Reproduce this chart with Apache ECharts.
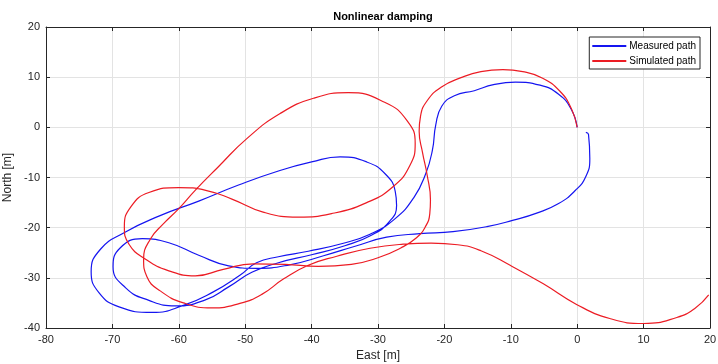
<!DOCTYPE html>
<html>
<head>
<meta charset="utf-8">
<script src="https://cdn.jsdelivr.net/npm/echarts@6/dist/echarts.min.js"></script>
<style>html,body{margin:0;padding:0;background:#fff;}#c{width:718px;height:364px;}</style>
</head>
<body>
<div id="c"></div>
<script>
var xTicks = [-80, -70, -60, -50, -40, -30, -20, -10, 0, 10, 20];
var yTicks = [-40, -30, -20, -10, 0, 10, 20];

var measuredEast = [0, -0.9, -2.8, -5.6, -9.3, -12.6, -15.5, -18.5, -20.4, -21.3, -21.8, -22.8, -24.6, -27.5, -31.2, -35.5, -40.5, -45, -48.3, -50.8, -54.8, -59.3, -64, -69, -72, -73.2, -71.8, -68.1, -63, -57, -51, -45, -40, -35.7, -31.7, -28.9, -27.4, -27.2, -28.3, -31, -35, -40, -45, -49, -52.5, -56, -60.5, -64.5, -68, -69.9, -68.8, -65.5, -61.5, -57, -52.5, -48.3, -43.3, -38.2, -33.2, -28.7, -23.7, -18.7, -13.6, -9.6, -6.1, -2.8, -0.3, 1.3, 1.9, 1.7, 1.3];
var measuredNorth = [0, 3.6, 6.6, 8.4, 9.0, 8.5, 7.3, 6.3, 4.2, 0.5, -4.5, -9.2, -14, -18.3, -21.3, -23.2, -24.7, -25.8, -27, -29.5, -32.8, -35.5, -36.9, -35.8, -33, -28.8, -24.3, -20.9, -17.7, -14.7, -11.5, -8.7, -6.9, -5.9, -6.9, -9.3, -12.8, -15.6, -18.8, -21.5, -23.6, -25.4, -27, -28.9, -31.8, -34.4, -35.6, -34.5, -32, -27.8, -24, -22.2, -23, -25.5, -27.6, -28.1, -27.4, -25.6, -23.6, -21.9, -21.2, -20.8, -19.8, -18.5, -17.1, -15.2, -12.6, -9.8, -6.2, -1.4, -1];

var simulatedEast = [0, -0.9, -2.6, -5.2, -8.2, -11.2, -14.5, -17.5, -20.5, -22.6, -23.6, -23.8, -23.3, -22.6, -22.1, -22.2, -22.9, -24.2, -26.5, -30, -34, -39, -44, -48.8, -53.3, -57.5, -61.5, -65, -67.5, -68.2, -67.2, -64.5, -60, -55.8, -52, -47.3, -42, -37, -31.7, -27.7, -25.2, -24.4, -25.6, -29, -34.5, -39.7, -44.8, -49.8, -54, -57.5, -60, -62.3, -64.3, -65.3, -64.8, -62.8, -59.3, -55, -50.8, -47.5, -44.2, -40.5, -36.2, -31.2, -26.2, -22, -18, -14.5, -10.1, -5.1, -0.1, 4.9, 10, 15, 17.8, 19.8];
var simulatedNorth = [0, 3.8, 7.2, 9.8, 11.1, 11.5, 11.1, 9.9, 8, 5.3, 2.2, -0.8, -5, -9.5, -14.5, -17.2, -19.9, -22, -24, -26, -27.3, -27.7, -27.3, -27.2, -28.3, -29.6, -28.6, -26.3, -23.3, -19.8, -15.8, -13, -12, -12.6, -14.3, -16.9, -17.9, -17.2, -15, -11.8, -7.6, -3.2, 1.3, 5, 6.9, 5.8, 2.7, -2.3, -7.8, -12.5, -16.2, -19.2, -22.3, -26.3, -29.8, -32.6, -35, -36, -35.1, -33.3, -30.2, -27.5, -25.7, -24.1, -23.3, -23.1, -23.4, -24.6, -27.5, -31.2, -35.3, -38.1, -39.1, -37.9, -36, -33.4];

function zip(a, b) { return a.map(function (v, i) { return [v, b[i]]; }); }

var textColor = '#262626';
var font = 'Liberation Sans, Arial, sans-serif';
var blue = '#1515f0';
var red = '#ec1c24';
var chart = echarts.init(document.getElementById('c'), null, {renderer: 'canvas'});

function axisCommon(showLabel) {
  return {
    type: 'value',
    interval: 10,
    axisLine: {show: true, onZero: false, lineStyle: {color: textColor, width: 1}},
    axisTick: {show: true, inside: true, length: 4, lineStyle: {color: textColor}},
    axisLabel: {show: showLabel, color: textColor, fontSize: 11, fontFamily: font},
    splitLine: {show: false}
  };
}

var xBottom = axisCommon(true);
xBottom.min = -80; xBottom.max = 20; xBottom.position = 'bottom';
xBottom.splitLine = {show: true, lineStyle: {color: '#e3e3e3', width: 1}};
xBottom.name = 'East [m]'; xBottom.nameLocation = 'middle'; xBottom.nameGap = 19;
xBottom.nameTextStyle = {color: textColor, fontSize: 12, fontFamily: font};
xBottom.axisLabel.margin = 6;

var xTop = axisCommon(false);
xTop.min = -80; xTop.max = 20; xTop.position = 'top';

var yLeft = axisCommon(true);
yLeft.min = -40; yLeft.max = 20; yLeft.position = 'left';
yLeft.splitLine = {show: true, lineStyle: {color: '#e3e3e3', width: 1}};
yLeft.name = 'North [m]'; yLeft.nameLocation = 'middle'; yLeft.nameGap = 23;
yLeft.nameTextStyle = {color: textColor, fontSize: 12, fontFamily: font};
yLeft.axisLabel.margin = 6;

var yRight = axisCommon(false);
yRight.min = -40; yRight.max = 20; yRight.position = 'right';

chart.setOption({
  animation: false,
  backgroundColor: '#ffffff',
  title: {
    text: 'Nonlinear damping',
    left: 378, top: 6, textAlign: 'center',
    textStyle: {color: '#000', fontSize: 11, fontWeight: 'bold', fontFamily: font}
  },
  grid: {left: 46, right: 8, top: 27, bottom: 36, containLabel: false, outerBoundsMode: 'none'},
  legend: {
    right: 18, top: 37,
    orient: 'vertical',
    itemWidth: 34, itemHeight: 2, itemGap: 5,
    padding: [4, 4, 3, 3],
    borderColor: '#262626', borderWidth: 1, borderRadius: 0,
    backgroundColor: '#fff',
    textStyle: {color: '#000', fontSize: 10, fontFamily: font, padding: [0, 0, 0, -2]},
    data: [{name: 'Measured path', icon: 'rect'}, {name: 'Simulated path', icon: 'rect'}]
  },
  xAxis: [xBottom, xTop],
  yAxis: [yLeft, yRight],
  series: [
    {
      name: 'Measured path', type: 'line', xAxisIndex: 0, yAxisIndex: 0,
      data: zip(measuredEast, measuredNorth),
      showSymbol: false, smooth: 0.5,
      lineStyle: {color: blue, width: 1.2},
      itemStyle: {color: blue}
    },
    {
      name: 'Simulated path', type: 'line', xAxisIndex: 0, yAxisIndex: 0,
      data: zip(simulatedEast, simulatedNorth),
      showSymbol: false, smooth: 0.5,
      lineStyle: {color: red, width: 1.2},
      itemStyle: {color: red}
    }
  ]
});
</script>
</body>
</html>
